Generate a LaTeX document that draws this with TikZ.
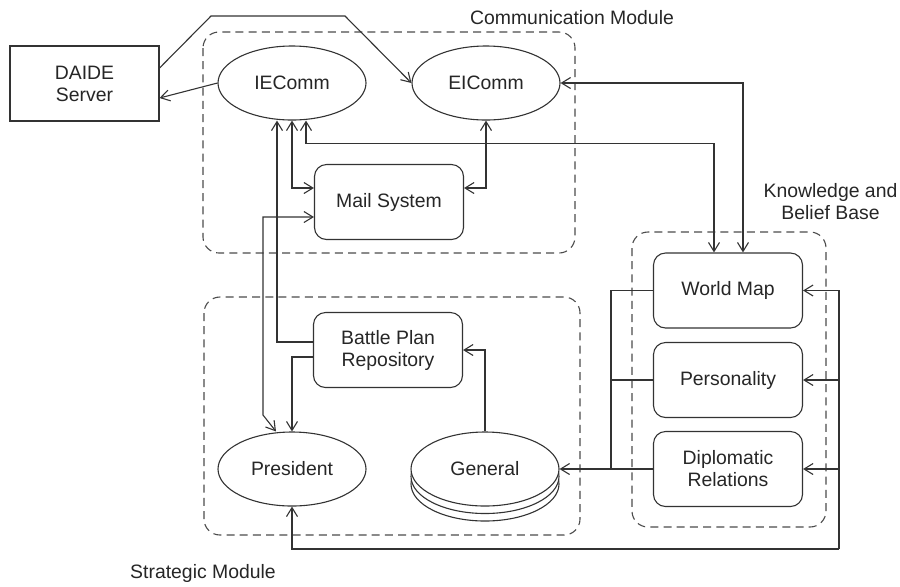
\documentclass[tikz,border=0pt]{standalone}
\usepackage{fontspec}
\setmainfont{Liberation Sans}
\usetikzlibrary{arrows.meta,shapes.geometric}
\begin{document}
\begin{tikzpicture}[x=0.5pt,y=-0.5pt,
  every node/.style={font=\fontsize{9.7pt}{11pt}\selectfont, text=black!85},
  line/.style={draw=black!80, line width=0.55pt},
  arr/.style={line, -{Straight Barb[length=4.5pt,width=5.5pt]}},
  arr2/.style={line, {Straight Barb[length=4.5pt,width=5.5pt]}-{Straight Barb[length=4.5pt,width=5.5pt]}},
  ell/.style={ellipse, line, fill=white, minimum width=74pt, minimum height=37pt, inner sep=0pt},
  rbox/.style={rectangle, rounded corners=6pt, line, fill=white, minimum width=74.5pt, minimum height=37.5pt, inner sep=0pt, align=center},
  sbox/.style={rectangle, line, fill=white, minimum width=74.5pt, minimum height=37.5pt, inner sep=0pt, align=center},
  module/.style={draw=black!70, line width=0.55pt, dash pattern=on 4pt off 2.6pt, rounded corners=8pt},
  lbl/.style={align=center, inner sep=0pt}
]
\useasboundingbox (0,0) rectangle (900,586);
% containers
\draw[module] (203,32) rectangle (575,253);
\draw[module] (204,297) rectangle (580,535);
\draw[module] (632,232) rectangle (826,527);
% labels
\node[lbl] (lcm) at (572,18) {Communication Module};
\node[lbl] (lkb) at (830.5,202) {Knowledge and\\Belief Base};
\node[lbl] (lsm) at (203,573) {Strategic Module};
% nodes
\node[sbox] (D) at (84.5,83.5) {DAIDE\\Server};
\node[ell] (I) at (292,83) {IEComm};
\node[ell] (E) at (486,83) {EIComm};
\node[rbox] (M) at (389,202) {Mail System};
\node[rbox] (B) at (388,350) {Battle Plan\\Repository};
\node[ell] (P) at (292,469) {President};
\node[ell] (G3) at (485,484) {};
\node[ell] (G2) at (485,476.5) {};
\node[ell] (G) at (485,469) {General};
\node[rbox] (W) at (728,290.5) {World Map};
\node[rbox] (Pe) at (728,380) {Personality};
\node[rbox] (Dp) at (728,469) {Diplomatic\\Relations};
\coordinate (lb) at (611,469);
\coordinate (rb) at (839,549);
% connectors
\draw[arr] ([yshift=7.75pt]D.east) -- (211,16) -- (345,16) -- (E.west);
\draw[arr] (I.west) -- ([yshift=-7.25pt]D.east);
\draw[arr2] (I.south) |- ([yshift=7pt]M.west);
\draw[arr2] ([xshift=7pt]I.south) -- ++(0,23) -| ([xshift=-7pt]W.north);
\draw[arr] ([yshift=4pt]B.west) -| ([xshift=-7.5pt]I.south);
\draw[arr2] ([yshift=-7.5pt]M.west) -| (263,415) -- ([xshift=-8pt]P.north);
\draw[arr] ([yshift=-3.5pt]B.west) -| (P.north);
\draw[arr] (G.north) |- (B.east);
\draw[arr2] (E.south) |- ([yshift=7pt]M.east);
\draw[arr2] (E.east) -| ([xshift=7.5pt]W.north);
\draw[line] (W.west) -| (lb);
\draw[line] (Pe.west) -- (lb |- Pe.west);
\draw[arr] (Dp.west) -- (G.east);
\draw[arr] (rb) -| (P.south);
\draw[arr] (rb) |- (W.east);
\draw[arr] (rb |- Pe.east) -- (Pe.east);
\draw[arr] (rb |- Dp.east) -- (Dp.east);
\end{tikzpicture}
\end{document}
